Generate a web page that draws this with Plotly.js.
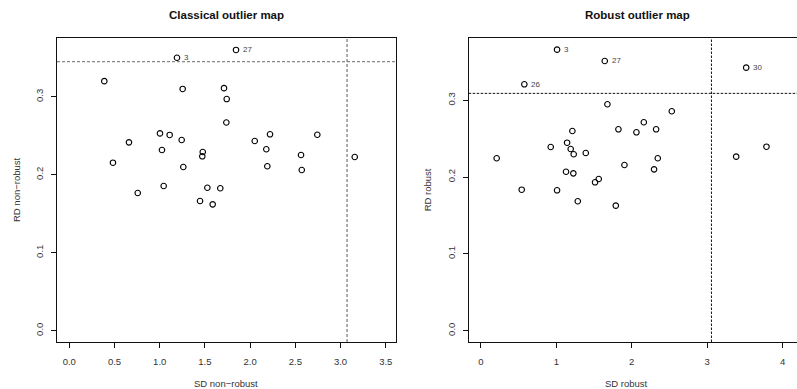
<!DOCTYPE html>
<html><head><meta charset="utf-8">
<script src="https://cdn.plot.ly/plotly-3.0.1.min.js"></script>
<style>html,body{margin:0;padding:0;overflow:hidden;background:#fff}#chart{width:805px;height:389px}</style>
</head><body><div id="chart"></div><script>
// Classical (non-robust) outlier map
var classicalSD = [1.191, 1.844, 0.387, 1.254, 1.711, 1.741, 1.737, 1.003, 1.110, 0.660,
                   1.243, 1.025, 1.476, 1.471, 2.051, 2.220, 2.179, 2.190, 2.743, 2.563,
                   2.571, 3.157, 0.483, 1.261, 0.757, 1.044, 1.527, 1.670, 1.446, 1.586];
var classicalRD = [0.350, 0.360, 0.320, 0.310, 0.311, 0.297, 0.267, 0.253, 0.251, 0.2415,
                   0.2445, 0.2317, 0.2291, 0.2236, 0.2432, 0.2518, 0.2326, 0.2108, 0.2513, 0.2253,
                   0.2060, 0.2227, 0.2154, 0.2099, 0.1765, 0.1855, 0.1833, 0.1826, 0.1663, 0.1620];
var classicalLabel = ['3', '27', '', '', '', '', '', '', '', '',
                      '', '', '', '', '', '', '', '', '', '',
                      '', '', '', '', '', '', '', '', '', ''];
// Robust outlier map
var robustSD = [1.009, 1.642, 0.575, 3.518, 1.677, 2.531, 2.160, 1.823, 2.062, 2.323,
                1.212, 0.925, 1.142, 1.190, 1.230, 1.390, 0.208, 2.345, 1.903, 2.296,
                1.128, 1.225, 1.562, 1.513, 3.385, 3.787, 0.540, 1.009, 1.284, 1.788];
var robustRD = [0.3659, 0.3512, 0.3208, 0.3425, 0.2948, 0.2857, 0.2714, 0.2622, 0.2583, 0.2622,
                0.2600, 0.2392, 0.2448, 0.2366, 0.2297, 0.2314, 0.2245, 0.2245, 0.2158, 0.2101,
                0.2070, 0.2049, 0.1975, 0.1932, 0.2266, 0.2396, 0.1836, 0.1828, 0.1685, 0.1628];
var robustLabel = ['3', '27', '26', '30', '', '', '', '', '', '',
                   '', '', '', '', '', '', '', '', '', '',
                   '', '', '', '', '', '', '', '', '', ''];
// cutoff values
var classicalCutSD = 3.072, classicalCutRD = 0.345;
var robustCutSD = 3.057, robustCutRD = 0.309;
// titles
var panelTitles = ['Classical outlier map', 'Robust outlier map'];
var xTitles = ['SD non\u2212robust', 'SD robust'];
var yTitles = ['RD non\u2212robust', 'RD robust'];

var W = 805, H = 389;
var FONT = 'Liberation Sans, Arial, Helvetica, sans-serif';

function pts(x, y, xa, ya) {
  return {
    type: 'scatter', mode: 'markers', x: x, y: y, xaxis: xa, yaxis: ya,
    marker: {symbol: 'circle-open', size: 5.5, color: '#000', line: {width: 1.1, color: '#000'}},
    hoverinfo: 'x+y', showlegend: false, cliponaxis: false
  };
}
function labels(x, y, lab, xa, ya) {
  var out = [];
  for (var i = 0; i < lab.length; i++) {
    if (!lab[i]) continue;
    out.push({text: lab[i], x: x[i], y: y[i], xref: xa, yref: ya, showarrow: false,
              xanchor: 'left', yanchor: 'middle', xshift: 7, borderpad: 0, borderwidth: 0,
              font: {family: FONT, size: 8, color: '#444'}});
  }
  return out;
}

var axBase = {
  showgrid: false, zeroline: false, showline: true, mirror: true,
  linecolor: '#111', linewidth: 1, ticks: 'outside', ticklen: 5, tickcolor: '#111',
  tickfont: {family: FONT, size: 9.5, color: '#333'}
};
function ax(extra) { return Object.assign({}, axBase, extra); }

var annotations = [
  {text: '<b>' + panelTitles[0] + '</b>', xref: 'paper', yref: 'paper', x: 226 / W, y: 1 - 15 / H,
   showarrow: false, xanchor: 'center', yanchor: 'middle', font: {family: FONT, size: 11.5, color: '#111'}},
  {text: '<b>' + panelTitles[1] + '</b>', xref: 'paper', yref: 'paper', x: 637 / W, y: 1 - 15 / H,
   showarrow: false, xanchor: 'center', yanchor: 'middle', font: {family: FONT, size: 11.5, color: '#111'}},
  {text: xTitles[0], xref: 'paper', yref: 'paper', x: 226 / W, y: 1 - 383 / H,
   showarrow: false, xanchor: 'center', yanchor: 'middle', font: {family: FONT, size: 9.5, color: '#333'}},
  {text: xTitles[1], xref: 'paper', yref: 'paper', x: 626 / W, y: 1 - 383.3 / H,
   showarrow: false, xanchor: 'center', yanchor: 'middle', font: {family: FONT, size: 9.5, color: '#333'}},
  {text: yTitles[0], xref: 'paper', yref: 'paper', x: 17 / W, y: 1 - 190 / H, textangle: -90,
   showarrow: false, xanchor: 'center', yanchor: 'middle', font: {family: FONT, size: 9.5, color: '#333'}},
  {text: yTitles[1], xref: 'paper', yref: 'paper', x: 428.3 / W, y: 1 - 190 / H, textangle: -90,
   showarrow: false, xanchor: 'center', yanchor: 'middle', font: {family: FONT, size: 9.5, color: '#333'}}
].concat(labels(classicalSD, classicalRD, classicalLabel, 'x', 'y'))
 .concat(labels(robustSD, robustRD, robustLabel, 'x2', 'y2'));

var layout = {
  width: W, height: H, margin: {l: 0, r: 0, t: 0, b: 0},
  paper_bgcolor: '#fff', plot_bgcolor: '#fff', showlegend: false,
  xaxis: ax({domain: [57 / W, 395.7 / W], range: [-0.136, 3.61], tickvals: [0, 0.5, 1, 1.5, 2, 2.5, 3, 3.5],
             tickformat: '.1f', anchor: 'y', ticklabelstandoff: 6}),
  yaxis: ax({domain: [(H - 342) / H, (H - 38) / H], range: [-0.0145, 0.3753], tickvals: [0, 0.1, 0.2, 0.3],
             tickformat: '.1f', tickangle: -90, anchor: 'x', ticklabelstandoff: 4}),
  xaxis2: ax({domain: [468.7 / W, 801 / W], range: [-0.163, 4.245], tickvals: [0, 1, 2, 3, 4],
              tickformat: 'd', anchor: 'y2', ticklabelstandoff: 6}),
  yaxis2: ax({domain: [(H - 342) / H, (H - 38.3) / H], range: [-0.0147, 0.3807], tickvals: [0, 0.1, 0.2, 0.3],
              tickformat: '.1f', tickangle: -90, anchor: 'x2', ticklabelstandoff: 4}),
  shapes: [
    {type: 'line', xref: 'x', yref: 'y domain', x0: classicalCutSD, x1: classicalCutSD, y0: 0, y1: 1,
     line: {color: '#888', width: 1.4, dash: '3px,2px'}},
    {type: 'line', xref: 'x domain', yref: 'y', x0: 0, x1: 1, y0: classicalCutRD, y1: classicalCutRD,
     line: {color: '#888', width: 1.4, dash: '3px,2px'}},
    {type: 'line', xref: 'x2', yref: 'y2 domain', x0: robustCutSD, x1: robustCutSD, y0: 0, y1: 1,
     line: {color: '#111', width: 1, dash: '2.5px,1.5px'}},
    {type: 'line', xref: 'x2 domain', yref: 'y2', x0: 0, x1: 1, y0: robustCutRD, y1: robustCutRD,
     line: {color: '#111', width: 1, dash: '2.5px,1.5px'}}
  ],
  annotations: annotations
};

var data = [
  pts(classicalSD, classicalRD, 'x', 'y'),
  pts(robustSD, robustRD, 'x2', 'y2')
];
Plotly.newPlot('chart', data, layout, {displayModeBar: false, staticPlot: true});
</script></body></html>
